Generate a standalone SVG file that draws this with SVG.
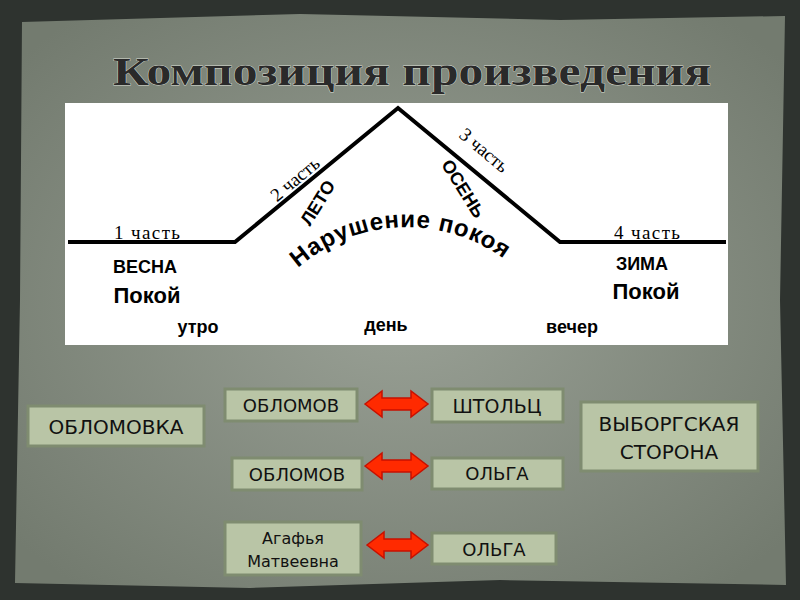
<svg xmlns="http://www.w3.org/2000/svg" width="800" height="600" viewBox="0 0 800 600">
<defs>
<style>
.bx{fill:#b9c5a6;stroke:#7f8c70;stroke-width:3}
.bt{font-family:"DejaVu Sans",sans-serif;fill:#111;text-anchor:middle}
.dt{font-family:"Liberation Sans Narrow","Liberation Sans",Arial,sans-serif;font-weight:bold;fill:#000;text-anchor:middle}
.ps{font-family:"Liberation Serif",serif;font-weight:normal}
.ar{fill:#ff2a00;stroke:#c81000;stroke-width:1.5}
</style>
<path id="arc" d="M 298,268 A 165 165 0 0 1 508,262" fill="none"/>
<radialGradient id="bg" cx="50%" cy="50%" r="65%"><stop offset="0" stop-color="#9aa196"/><stop offset="1" stop-color="#737b6f"/></radialGradient>
</defs>
<rect width="800" height="600" fill="#2e332f"/>
<path d="M22,22 L300,14 L560,20 L785,16 L780,300 L786,585 L500,580 L250,588 L15,583 L20,300 Z" fill="url(#bg)"/>
<text x="412" y="85" text-anchor="middle" font-family="'Liberation Serif',serif" font-weight="bold" font-size="40" textLength="598" lengthAdjust="spacingAndGlyphs" fill="#2a2a2a" stroke="#d8dcd2" stroke-width="0.8" paint-order="stroke">Композиция произведения</text>
<g id="scheme">
<rect x="65" y="103" width="663" height="242" fill="#fff"/>
<polyline points="68,242 235,242 398,108 560,242 726,242" fill="none" stroke="#000" stroke-width="4"/>
<g class="dt" font-size="18">
<text class="ps" x="147" y="239" textLength="66" font-size="19">1 часть</text>
<text x="145" y="273">ВЕСНА</text>
<text x="147" y="303" font-size="22">Покой</text>
<text x="198" y="333">утро</text>
<text x="386" y="331">день</text>
<text x="572" y="333">вечер</text>
<text class="ps" x="647" y="239" textLength="66" font-size="19">4 часть</text>
<text x="642" y="270">ЗИМА</text>
<text x="646" y="299" font-size="22">Покой</text>
<text class="ps" font-size="19" transform="translate(299,184) rotate(-40)">2 часть</text>
<text transform="translate(323,206) rotate(-58)">ЛЕТО</text>
<text class="ps" font-size="19" transform="translate(480,155) rotate(40)">3 часть</text>
<text transform="translate(458,192) rotate(58)">ОСЕНЬ</text>
<text font-size="24" text-anchor="start"><textPath href="#arc" textLength="222">Нарушение покоя</textPath></text>
</g>
</g>
<g id="connectors">
<path class="ar" d="M365,404 L382,391 L382,398 L411,398 L411,391 L428,404 L411,417 L411,410 L382,410 L382,417 Z"/>
<path class="ar" d="M365,466 L382,453 L382,460 L411,460 L411,453 L428,466 L411,479 L411,472 L382,472 L382,479 Z"/>
<path class="ar" d="M367,545 L384,532 L384,539 L411,539 L411,532 L428,545 L411,558 L411,551 L384,551 L384,558 Z"/>
</g>
<g id="oblomovka"><rect class="bx" x="28" y="406" width="176" height="40"/><text class="bt" x="116" y="434" font-size="20">ОБЛОМОВКА</text></g>
<g id="oblomov1"><rect class="bx" x="225" y="389" width="132" height="32"/><text class="bt" x="291" y="412" font-size="18">ОБЛОМОВ</text></g>
<g id="stolz"><rect class="bx" x="432" y="389" width="131" height="33"/><text class="bt" x="497" y="413" font-size="19">ШТОЛЬЦ</text></g>
<g id="oblomov2"><rect class="bx" x="232" y="458" width="130" height="32"/><text class="bt" x="297" y="481" font-size="18">ОБЛОМОВ</text></g>
<g id="olga1"><rect class="bx" x="432" y="458" width="131" height="31"/><text class="bt" x="497" y="480" font-size="18">ОЛЬГА</text></g>
<g id="agafya"><rect class="bx" x="225" y="522" width="136" height="53"/><text class="bt" x="293" y="544" font-size="16">Агафья</text><text class="bt" x="293" y="567" font-size="16">Матвеевна</text></g>
<g id="olga2"><rect class="bx" x="432" y="533" width="124" height="31"/><text class="bt" x="494" y="556" font-size="18">ОЛЬГА</text></g>
<g id="vyborg"><rect class="bx" x="581" y="402" width="177" height="69"/><text class="bt" x="669" y="431" font-size="20">ВЫБОРГСКАЯ</text><text class="bt" x="669" y="459" font-size="20">СТОРОНА</text></g>
</svg>
